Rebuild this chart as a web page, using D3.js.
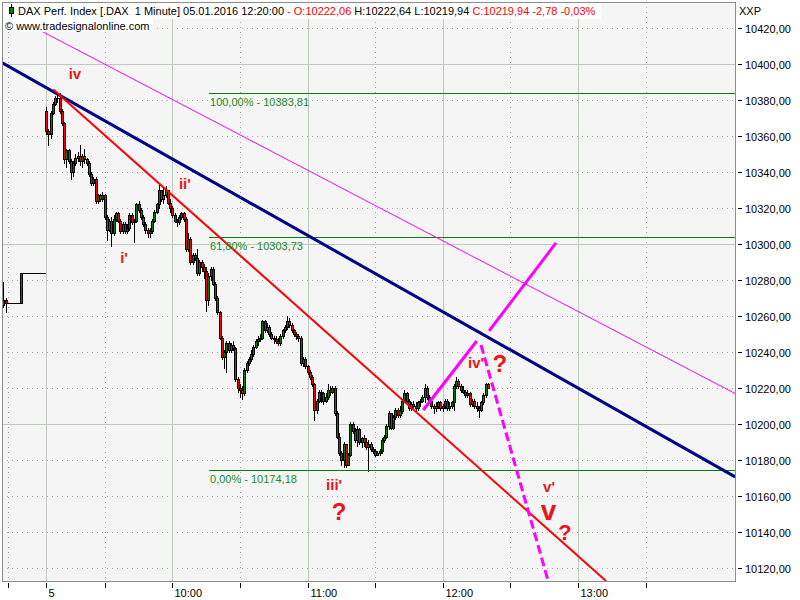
<!DOCTYPE html>
<html><head><meta charset="utf-8">
<script src="https://cdn.jsdelivr.net/npm/d3@7/dist/d3.min.js"></script>
<style>
body{margin:0;background:#fff}
svg{display:block}
text{font-family:"Liberation Sans",Arial,sans-serif}
</style>
</head><body>
<svg id="c" width="800" height="600"></svg>
<script>
// ---------------- DATA ----------------
// minute offset (relative to 10:00) of the first bar shown; bars are consecutive 1-minute bars
const firstBarMinute = -75;
// opens that differ from previous close (gaps)
const gapOpens = {0: 10266, 19: 10374};
const closes = [
 10269,10267,10267,10267,10267,10267,10267,10267,10284,10284,10284,10284,10284,10284,10284,10284,10284,10284,10284,
 10363,10361,10373,10378,10381,10381,10374,10367,10347,10352,
 10346,10340,10345,10348,10349,10346,10349,10347,10345,10339,
 10334,10336,10324,10327,10325,10327,10315,10308,10313,10306,
 10314,10317,10313,10307,10311,10307,10309,10316,10312,10313,
 10322,10319,10315,10311,10308,10306,10307,10313,10318,10322,
 10330,10325,10327,10330,10323,10320,10316,10313,10312,10315,
 10317,10314,10297,10303,10290,10294,10292,10284,10290,10287,
 10285,10269,10282,10286,10278,10270,10262,10248,10237,10240,
 10245,10241,10244,10242,10225,10220,10219,10217,10230,10234,
 10236,10239,10243,10246,10247,10248,10257,10252,10254,10250,
 10248,10247,
 10246,10245,10249,10252,10254,10257,10255,10252,10250,
 10249,10248,10234,10236,10232,10229,10226,10222,10208,10213,
 10218,10217,10213,10215,10219,10218,10220,10206,10193,10184,
 10180,10189,10177,10183,10200,10196,10191,10197,10190,10192,
 10190,10187,10189,10186,10185,10183,10184,10185,10191,10193,
 10199,10206,10198,10204,10208,10205,10207,10213,10217,10213,
 10209,10211,10210,10209,10212,10213,10215,
 10220,10215,10213,10210,
 10209,10210,10212,10209,10210,10213,10209,10210,10212,10221,
 10224,10221,10219,10218,10216,10217,10211,10213,10210,10209,
 10208,10212,10216,10222.06,10219.94
];
const highs = [
 10279,10270,10267,10267,10267,10267,10267,10267,10284,10284,10284,10284,10284,10284,10284,10284,10284,10284,10284,
 10376,10364,10374,10379,10382,10383,10384,10375,10368,10353,
 10353,10347,10346,10350,10351,10355,10350,10353,10348,10346,
 10340,10337,10337,10328,10328,10329,10328,10316,10314,10315,
 10316,10318,10318,10314,10312,10312,10311,10317,10317,10314,
 10323,10324,10320,10316,10312,10309,10309,10314,10319,10323,
 10333,10330,10331,10332,10330,10325,10321,10317,10314,10316,
 10318,10318,10315,10306,10304,10295,10295,10297,10291,10291,
 10289,10287,10284,10287,10287,10279,10271,10263,10249,10241,
 10246,10246,10245,10246,10243,10226,10222,10221,10231,10235,
 10237,10241,10244,10247,10249,10250,10258,10258,10256,10255,
 10251,10249,
 10249,10248,10250,10253,10255,10260,10259,10256,10253,
 10251,10250,10249,10237,10237,10233,10230,10227,10223,10214,
 10219,10219,10218,10217,10222,10221,10221,10221,10207,10195,
 10185,10190,10189,10184,10201,10201,10198,10199,10198,10193,
 10194,10192,10191,10190,10187,10186,10185,10186,10192,10194,
 10200,10207,10206,10205,10209,10209,10210,10214,10219,10218,
 10214,10212,10213,10212,10213,10214,10216,
 10222,10221,10216,10214,
 10211,10212,10213,10213,10211,10214,10214,10212,10213,10222,
 10226,10225,10222,10221,10219,10219,10218,10214,10214,10212,
 10210,10213,10217,10223,10222.64
];
const lows = [
 10265,10262,10267,10267,10267,10267,10267,10267,10267,10284,10284,10284,10284,10284,10284,10284,10284,10284,10284,
 10361,10355,10359,10372,10377,10379,10373,10366,10345,10343,
 10345,10336,10338,10344,10346,10344,10343,10345,10344,10338,
 10333,10333,10323,10323,10324,10324,10314,10302,10307,10299,
 10305,10313,10312,10306,10306,10306,10306,10308,10311,10301,
 10312,10318,10314,10310,10306,10304,10304,10306,10312,10317,
 10320,10324,10323,10326,10322,10318,10315,10312,10310,10311,
 10314,10313,10296,10296,10289,10289,10291,10283,10283,10285,
 10281,10263,10266,10280,10277,10269,10261,10247,10236,10231,
 10229,10240,10240,10241,10224,10218,10215,10214,10216,10229,
 10233,10235,10238,10242,10244,10246,10247,10251,10251,10249,
 10247,10245,
 10245,10244,10244,10248,10251,10253,10254,10251,10249,
 10247,10246,10233,10232,10231,10228,10225,10221,10202,10206,
 10212,10212,10211,10212,10214,10216,10217,10205,10192,10183,
 10177,10176,10176,10177,10182,10195,10190,10188,10189,10187,
 10188,10186,10174,10185,10184,10182,10183,10183,10184,10190,
 10192,10197,10197,10197,10203,10204,10204,10206,10212,10212,
 10208,10208,10209,10207,10208,10210,10212,
 10212,10214,10212,10209,
 10206,10207,10209,10208,10207,10209,10208,10208,10209,10208,
 10220,10220,10218,10217,10215,10215,10210,10210,10209,10207,
 10204,10207,10211,10215,10219.94
];

const priceTicks = [10120,10140,10160,10180,10200,10220,10240,10260,10280,10300,10320,10340,10360,10380,10400,10420];
const majorPriceGrid = [10200,10300,10400];
const timeTicks =      [-73, -56, -30,   0,      30,  60,      90,  120,     150, 180,     210];
const timeTickLabels = ["",  "5", "",   "10:00", "",  "11:00", "",  "12:00", "",  "13:00", ""];

// fibonacci levels
const fibLevels = [10383.81, 10303.73, 10174.18];
const fibLabels = ["100,00% - 10383,81", "61,80% - 10303,73", "0,00% - 10174,18"];
const fibStartMinute = 16.3;

// trend lines [minute, price]
const navyLine = [[-76.5, 10401.4], [249.8, 10170.6]];
const redLine = [[-52.8, 10385.9], [192.5, 10112.8]];
const thinMagentaLine = [[-76.5, 10430.3], [249.8, 10216.9]];
const magentaSeg1 = [[111.4, 10207.8], [135.1, 10246.1]];
const magentaSeg2 = [[140.6, 10251.7], [170.3, 10300.6]];
const magentaDashed = [[137.0, 10243.9], [166.8, 10112.8]];

// wave labels [text, minute, price(baseline), size]
const waveLabels = [
 ["iv", -43.2, 10391.5, 15],
 ["i'", -21.4, 10289.4, 15],
 ["ii'", 5.6, 10330.5, 15],
 ["iii'", 71.8, 10163.3, 15],
 ["?", 74.0, 10146.7, 24],
 ["iv'", 134.8, 10231.1, 15],
 ["?", 145.4, 10228.9, 24],
 ["v'", 167.2, 10162.2, 15],
 ["v", 167.0, 10146.7, 28],
 ["?", 174.3, 10135.6, 22]
];

// ---------------- DRAW ----------------
const svg = d3.select("#c");
const P = {l: 2, t: 2, r: 735, b: 581};
const xs = d3.scaleLinear().domain([0, 60]).range([172.3, 307.5]);
const ys = d3.scaleLinear().domain([10420, 10120]).range([28, 568]);

svg.append("rect").attr("width",800).attr("height",600).attr("fill","#fff");
svg.append("rect").attr("x",P.l).attr("y",P.t).attr("width",P.r-P.l).attr("height",P.b-P.t).attr("fill","#f5f5f5");

svg.append("clipPath").attr("id","clip").append("rect")
  .attr("x",P.l+1).attr("y",P.t+1).attr("width",P.r-P.l-1).attr("height",P.b-P.t-1);

const g = svg.append("g").attr("clip-path","url(#clip)");

// horizontal grid
priceTicks.forEach(v=>{
  const y = Math.round(ys(v))+0.5;
  const major = majorPriceGrid.includes(v);
  g.append("line").attr("x1",P.l).attr("x2",P.r).attr("y1",y).attr("y2",y)
   .attr("stroke", major ? "#bccbbc" : "#a8a8a8")
   .attr("stroke-dasharray", major ? null : "1,4");
});
// vertical grid
timeTicks.forEach((t,i)=>{
  const x = Math.round(xs(t))+0.5;
  const major = timeTickLabels[i] !== "";
  g.append("line").attr("x1",x).attr("x2",x).attr("y1",P.t).attr("y2",P.b)
   .attr("stroke", major ? "#bccbbc" : "#a8a8a8")
   .attr("stroke-dasharray", major ? null : "1,4");
});

// candles
const bars = closes.map((c,k)=>{
  const o = (k in gapOpens) ? gapOpens[k] : closes[k-1];
  return {t: firstBarMinute + k, o, h: highs[k], l: lows[k], c};
});
const cg = g.append("g");
bars.forEach(b=>{
  const cx = Math.round(xs(b.t));
  const hi = Math.max(b.h, b.o, b.c), lo = Math.min(b.l, b.o, b.c);
  cg.append("line").attr("x1",cx+0.5).attr("x2",cx+0.5)
    .attr("y1",Math.round(ys(hi))).attr("y2",Math.round(ys(lo))+1)
    .attr("stroke","#000").attr("stroke-width",1);
  const yTop = Math.round(ys(Math.max(b.o,b.c)));
  const yBot = Math.round(ys(Math.min(b.o,b.c)));
  if (yBot - yTop < 1) {
    cg.append("line").attr("x1",cx-1).attr("x2",cx+2).attr("y1",yTop+0.5).attr("y2",yTop+0.5)
      .attr("stroke","#000");
  } else {
    cg.append("rect").attr("x",cx-0.5).attr("y",yTop+0.5).attr("width",2).attr("height",yBot-yTop)
      .attr("fill", b.c >= b.o ? "#008000" : "#ff0000")
      .attr("stroke","#000").attr("stroke-width",1);
  }
});

// fib lines
fibLevels.forEach(v=>{
  const y = Math.round(ys(v))+0.5;
  g.append("line").attr("x1",xs(fibStartMinute)).attr("x2",P.r).attr("y1",y).attr("y2",y)
   .attr("stroke","#008000").attr("stroke-width",1);
});

// trend lines
const ln = d3.line().x(d=>xs(d[0])).y(d=>ys(d[1]));
g.append("path").attr("d",ln(thinMagentaLine)).attr("stroke","#ff00ff").attr("stroke-width",1).attr("fill","none");
g.append("path").attr("d",ln(navyLine)).attr("stroke","#00008b").attr("stroke-width",3).attr("fill","none");
g.append("path").attr("d",ln(redLine)).attr("stroke","#ff0000").attr("stroke-width",2).attr("fill","none");
g.append("path").attr("d",ln(magentaSeg1)).attr("stroke","#ff00ff").attr("stroke-width",3).attr("fill","none");
g.append("path").attr("d",ln(magentaSeg2)).attr("stroke","#ff00ff").attr("stroke-width",3).attr("fill","none");
g.append("path").attr("d",ln(magentaDashed)).attr("stroke","#ff00ff").attr("stroke-width",3)
  .attr("stroke-dasharray","9,4").attr("fill","none");

// fib labels
fibLevels.forEach((v,i)=>{
  g.append("text").attr("x",xs(fibStartMinute)+1).attr("y",ys(v)+13)
   .attr("font-size",11).attr("fill","#1f8a1f").text(fibLabels[i]);
});

// wave labels
waveLabels.forEach(w=>{
  g.append("text").attr("x",xs(w[1])).attr("y",ys(w[2])).attr("text-anchor","middle")
   .attr("font-size",w[3]).attr("font-weight","bold").attr("fill","#e81818").text(w[0]);
});

// header
svg.append("rect").attr("x",3).attr("y",3).attr("width",598).attr("height",16).attr("fill","#fff");
svg.append("rect").attr("x",3).attr("y",19).attr("width",150).attr("height",13).attr("fill","#fff");
// small candle icon
svg.append("line").attr("x1",11.5).attr("x2",11.5).attr("y1",4).attr("y2",17).attr("stroke","#000");
svg.append("rect").attr("x",9.5).attr("y",7.5).attr("width",4).attr("height",6).attr("fill","#008000").attr("stroke","#000");

const hdr = svg.append("text").attr("x",18).attr("y",15).attr("font-size",11).style("white-space","pre");
hdr.append("tspan").attr("fill","#000").text("DAX Perf. Index [.DAX  1 Minute] 05.01.2016 12:20:00 ");
hdr.append("tspan").attr("fill","#ff0000").text("- O:10222,06 ");
hdr.append("tspan").attr("fill","#000").text("H:10222,64 L:10219,94 ");
hdr.append("tspan").attr("fill","#ff0000").text("C:10219,94 -2,78 -0,03%");
svg.append("text").attr("x",5).attr("y",30).attr("font-size",11).attr("fill","#000").text("\u00a9 www.tradesignalonline.com");

// plot frame
svg.append("rect").attr("x",P.l+0.5).attr("y",P.t+0.5).attr("width",P.r-P.l).attr("height",P.b-P.t)
  .attr("fill","none").attr("stroke","#8c8c8c");

// right axis
svg.append("text").attr("x",739).attr("y",15).attr("font-size",11).attr("fill","#000").text("XXP");
priceTicks.forEach(v=>{
  const y = Math.round(ys(v))+0.5;
  svg.append("line").attr("x1",738).attr("x2",742).attr("y1",y).attr("y2",y).attr("stroke","#000");
  svg.append("text").attr("x",745).attr("y",y+4).attr("font-size",11).attr("fill","#000")
    .text(v.toFixed(2).replace(".", ","));
});
// bottom axis
timeTicks.forEach((t,i)=>{
  const x = Math.round(xs(t))+0.5;
  svg.append("line").attr("x1",x).attr("x2",x).attr("y1",583).attr("y2",588).attr("stroke","#000");
  if (timeTickLabels[i]) {
    svg.append("text").attr("x",x+2).attr("y",597).attr("font-size",11).attr("fill","#000").text(timeTickLabels[i]);
  }
});
</script>
</body></html>
